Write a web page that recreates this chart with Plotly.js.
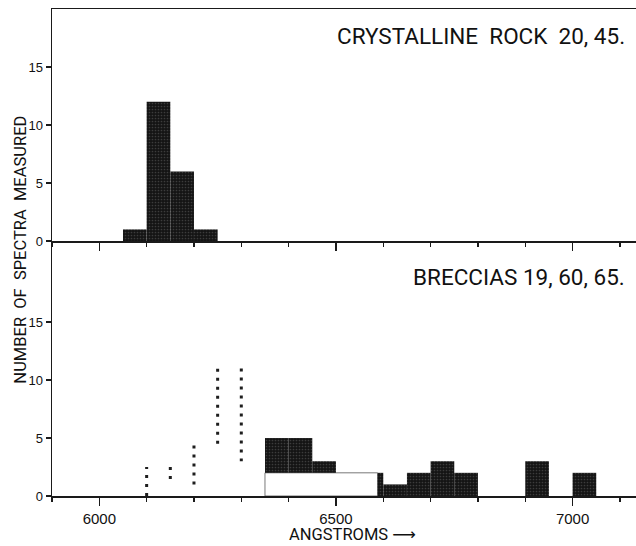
<!DOCTYPE html>
<html>
<head>
<meta charset="utf-8">
<script src="https://cdn.plot.ly/plotly-3.0.1.min.js"></script>
<style>
html,body{margin:0;padding:0;background:#fff;}
#chart{width:636px;height:546px;}
</style>
</head>
<body>
<div id="chart"></div>
<script>
// ---- Data ----
// Top panel: crystalline rock 20, 45 (50 Å bins)
const topBinLeft  = [6050, 6100, 6150, 6200];
const topBinRight = [6100, 6150, 6200, 6250];
const topCounts   = [1, 12, 6, 1];

// Bottom panel: breccias 19, 60, 65
// solid (black) bars, with their base level
const brecBlackLeft  = [6350, 6400, 6450, 6588, 6600, 6650, 6700, 6750, 6900, 7000];
const brecBlackRight = [6400, 6450, 6500, 6600, 6650, 6700, 6750, 6800, 6950, 7050];
const brecBlackBase  = [2, 2, 2, 0, 0, 0, 0, 0, 0, 0];
const brecBlackTop   = [5, 5, 3, 2, 1, 2, 3, 2, 3, 2];
// open (white, outlined) layer
const brecOpenLeft  = [6350];
const brecOpenRight = [6588];
const brecOpenTop   = [2];
// bars whose fill faded out in the print (only speckled edges remain)
const brecFadedLeft   = [6100, 6150, 6200, 6250, 6300];
const brecFadedRight  = [6150, 6200, 6250, 6300, 6350];
const brecFadedCounts = [2.5, 1, 4.5, 11, 3];

const yTickVals = [0, 5, 10, 15];
const xTickVals = [6000, 6500, 7000];
const xTickText = ['6000', '6500', '7000'];

const topLabel  = 'CRYSTALLINE\u00a0\u00a0ROCK\u00a0\u00a020,\u00a045.';
const brecLabel = 'BRECCIAS 19, 60, 65.';
const yTitle    = 'NUMBER\u00a0\u00a0OF\u00a0\u00a0SPECTRA\u00a0\u00a0MEASURED';
const xTitle    = 'ANGSTROMS \u27f6';

// ---- helpers ----
const centers = (l, r) => l.map((v, i) => (v + r[i]) / 2);
const widths  = (l, r) => l.map((v, i) => r[i] - v);

const LBL = "Roboto, 'DejaVu Sans', sans-serif";
const REG = "'Liberation Sans', Arial, sans-serif";
const INK = '#161616';
const barPattern = {shape: '.', bgcolor: '#141414', fgcolor: '#3c3c3c', size: 3, solidity: 0.25};

// faded edges -> vertical dotted segments
const fadedX = [], fadedY = [];
brecFadedLeft.forEach((x, i) => {
  const prev = i > 0 ? brecFadedCounts[i - 1] : 0;
  fadedX.push(x, x, null);
  fadedY.push(prev, brecFadedCounts[i], null);
});

const traces = [
  {
    type: 'bar', xaxis: 'x2', yaxis: 'y2',
    x: centers(topBinLeft, topBinRight), width: widths(topBinLeft, topBinRight), y: topCounts,
    marker: {color: INK, pattern: barPattern, line: {width: 0}},
    hoverinfo: 'skip', showlegend: false
  },
  {
    type: 'bar', xaxis: 'x', yaxis: 'y',
    x: centers(brecOpenLeft, brecOpenRight), width: widths(brecOpenLeft, brecOpenRight), y: brecOpenTop,
    marker: {color: '#ffffff', line: {width: 0.8, color: '#555'}},
    hoverinfo: 'skip', showlegend: false
  },
  {
    type: 'bar', xaxis: 'x', yaxis: 'y',
    x: centers(brecBlackLeft, brecBlackRight), width: widths(brecBlackLeft, brecBlackRight),
    base: brecBlackBase, y: brecBlackTop.map((t, i) => t - brecBlackBase[i]),
    marker: {color: INK, pattern: barPattern, line: {width: 0}},
    hoverinfo: 'skip', showlegend: false
  },
  {
    type: 'scatter', mode: 'lines', xaxis: 'x', yaxis: 'y',
    x: fadedX, y: fadedY, connectgaps: false,
    line: {color: '#1e1e1e', width: 3, dash: '3px,6px'},
    hoverinfo: 'skip', showlegend: false
  }
];

const SPLIT = 0.5236;
const axisCommon = {
  showline: true, linecolor: '#1a1a1a', linewidth: 1.5,
  showgrid: false, zeroline: false
};

const layout = {
  width: 636, height: 546,
  margin: {l: 52, r: 0, t: 9, b: 50, pad: 0},
  paper_bgcolor: '#fff', plot_bgcolor: '#fff',
  barmode: 'overlay', showlegend: false,
  xaxis: Object.assign({}, axisCommon, {
    domain: [0, 1], anchor: 'y', range: [5900, 7134],
    ticks: 'outside', ticklen: 8, tickwidth: 1.3, tickcolor: '#1a1a1a',
    tickvals: xTickVals, ticktext: xTickText,
    tickfont: {family: REG, size: 15, color: '#111'},
    minor: {ticks: 'outside', ticklen: 4, tickwidth: 1.2, tickcolor: '#1a1a1a', dtick: 100, tick0: 5900}
  }),
  xaxis2: Object.assign({}, axisCommon, {
    domain: [0, 1], anchor: 'y2', range: [5900, 7134], mirror: true,
    ticks: 'outside', ticklen: 8, tickwidth: 1.3, tickcolor: '#1a1a1a',
    tickvals: xTickVals, showticklabels: false,
    minor: {ticks: 'outside', ticklen: 4, tickwidth: 1.2, tickcolor: '#1a1a1a', dtick: 100, tick0: 5900}
  }),
  yaxis: Object.assign({}, axisCommon, {
    domain: [0, SPLIT], anchor: 'x', range: [0, 22],
    ticks: 'outside', ticklen: 5, tickwidth: 1.3, tickcolor: '#1a1a1a',
    tickvals: yTickVals, tickfont: {family: REG, size: 13, color: '#111'}
  }),
  yaxis2: Object.assign({}, axisCommon, {
    domain: [SPLIT, 1], anchor: 'x2', range: [0, 20],
    ticks: 'outside', ticklen: 5, tickwidth: 1.3, tickcolor: '#1a1a1a',
    tickvals: yTickVals, tickfont: {family: REG, size: 13, color: '#111'}
  }),
  annotations: [
    {text: topLabel, xref: 'paper', yref: 'paper', x: 0.985, y: 0.9446,
     xanchor: 'right', yanchor: 'middle', showarrow: false,
     font: {family: LBL, size: 22.5, color: '#111'}},
    {text: brecLabel, xref: 'paper', yref: 'paper', x: 0.985, y: 0.4497,
     xanchor: 'right', yanchor: 'middle', showarrow: false,
     font: {family: LBL, size: 22.5, color: '#111'}},
    {text: yTitle, xref: 'paper', yref: 'paper', x: -0.053, y: 0.506,
     xanchor: 'center', yanchor: 'middle', textangle: -90, showarrow: false,
     font: {family: LBL, size: 16.5, color: '#111'}},
    {text: xTitle, xref: 'paper', yref: 'paper', x: 0.5137, y: -0.080,
     xanchor: 'center', yanchor: 'middle', showarrow: false,
     font: {family: LBL, size: 16.5, color: '#111'}}
  ]
};

Plotly.newPlot('chart', traces, layout, {staticPlot: true, displayModeBar: false});
</script>
</body>
</html>
